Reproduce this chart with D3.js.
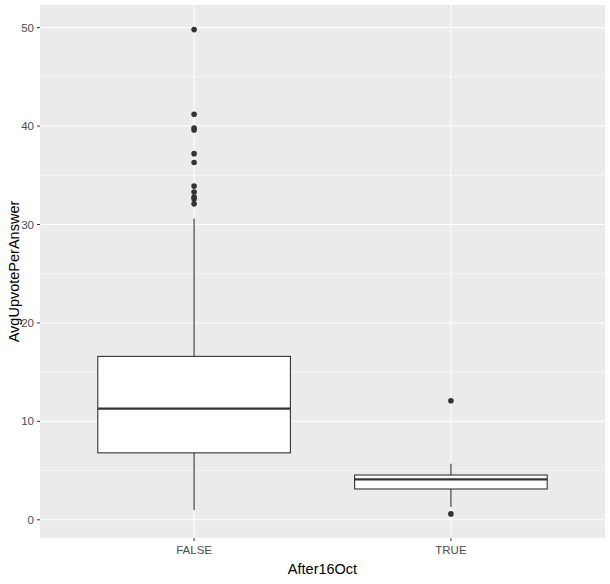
<!DOCTYPE html>
<html><head><meta charset="utf-8">
<script src="https://cdn.jsdelivr.net/npm/d3@7"></script>
<style>body{margin:0;background:#fff}text{font-family:"Liberation Sans",Arial,sans-serif}</style>
</head><body><svg id="c" width="610" height="584"></svg>
<script>
const categories = ["FALSE","TRUE"];
const q1 = [6.8, 3.13];
const median = [11.3, 4.1];
const q3 = [16.6, 4.55];
const whiskerLow = [1.0, 1.3];
const whiskerHigh = [30.6, 5.7];
const outliersFALSE = [49.8, 41.2, 39.8, 39.6, 37.2, 36.3, 33.9, 33.3, 32.8, 32.6, 32.1];
const outliersTRUE = [12.1, 0.6];
const yTicks = [0,10,20,30,40,50];

const svg = d3.select("#c");
const L=40,R=605,T=5,B=538;
const x = d3.scalePoint().domain(categories).range([L,R]).padding(0.6);
const step = x.step();
const y = d3.scaleLinear().domain([-1.85,52.3]).range([B,T]);
svg.append("rect").attr("x",L).attr("y",T).attr("width",R-L).attr("height",B-T).attr("fill","#ebebeb");
const minor = d3.range(5,55,10);
svg.selectAll(".mn").data(minor).enter().append("line").attr("x1",L).attr("x2",R)
 .attr("y1",d=>y(d)).attr("y2",d=>y(d)).attr("stroke","#fff").attr("stroke-width",0.55);
svg.selectAll(".mj").data(yTicks).enter().append("line").attr("x1",L).attr("x2",R)
 .attr("y1",d=>y(d)).attr("y2",d=>y(d)).attr("stroke","#fff").attr("stroke-width",1.1);
svg.selectAll(".vx").data(categories).enter().append("line").attr("x1",d=>x(d)).attr("x2",d=>x(d))
 .attr("y1",T).attr("y2",B).attr("stroke","#fff").attr("stroke-width",1.1);
const bw = step*0.75;
categories.forEach((c,i)=>{
  const cx=x(c);
  const g=svg.append("g");
  g.append("line").attr("x1",cx).attr("x2",cx).attr("y1",y(q3[i])).attr("y2",y(whiskerHigh[i])).attr("stroke","#333").attr("stroke-width",1.1);
  g.append("line").attr("x1",cx).attr("x2",cx).attr("y1",y(q1[i])).attr("y2",y(whiskerLow[i])).attr("stroke","#333").attr("stroke-width",1.1);
  g.append("rect").attr("x",cx-bw/2).attr("width",bw).attr("y",y(q3[i])).attr("height",y(q1[i])-y(q3[i]))
   .attr("fill","#fff").attr("stroke","#333").attr("stroke-width",1.1);
  g.append("line").attr("x1",cx-bw/2).attr("x2",cx+bw/2).attr("y1",y(median[i])).attr("y2",y(median[i])).attr("stroke","#333").attr("stroke-width",2.2);
  const outs = i===0?outliersFALSE:outliersTRUE;
  g.selectAll("circle").data(outs).enter().append("circle").attr("cx",cx).attr("cy",d=>y(d)).attr("r",2.8).attr("fill","#333");
});
svg.selectAll(".yt").data(yTicks).enter().append("text").attr("x",L-6).attr("y",d=>y(d)).attr("dy","0.35em")
 .attr("text-anchor","end").attr("font-size",11.5).attr("fill","#4d4d4d").text(d=>d);
svg.selectAll(".ytk").data(yTicks).enter().append("line").attr("x1",L-3).attr("x2",L).attr("y1",d=>y(d)).attr("y2",d=>y(d)).attr("stroke","#333");
svg.selectAll(".xt").data(categories).enter().append("text").attr("x",d=>x(d)).attr("y",B+16)
 .attr("text-anchor","middle").attr("font-size",11.5).attr("fill","#4d4d4d").text(d=>d);
svg.selectAll(".xtk").data(categories).enter().append("line").attr("x1",d=>x(d)).attr("x2",d=>x(d)).attr("y1",B).attr("y2",B+3).attr("stroke","#333");
svg.append("text").attr("x",(L+R)/2).attr("y",574).attr("text-anchor","middle").attr("font-size",14.5).text("After16Oct");
svg.append("text").attr("transform",`translate(19,${(T+B)/2}) rotate(-90)`).attr("text-anchor","middle").attr("font-size",14.5).text("AvgUpvotePerAnswer");
</script></body></html>
